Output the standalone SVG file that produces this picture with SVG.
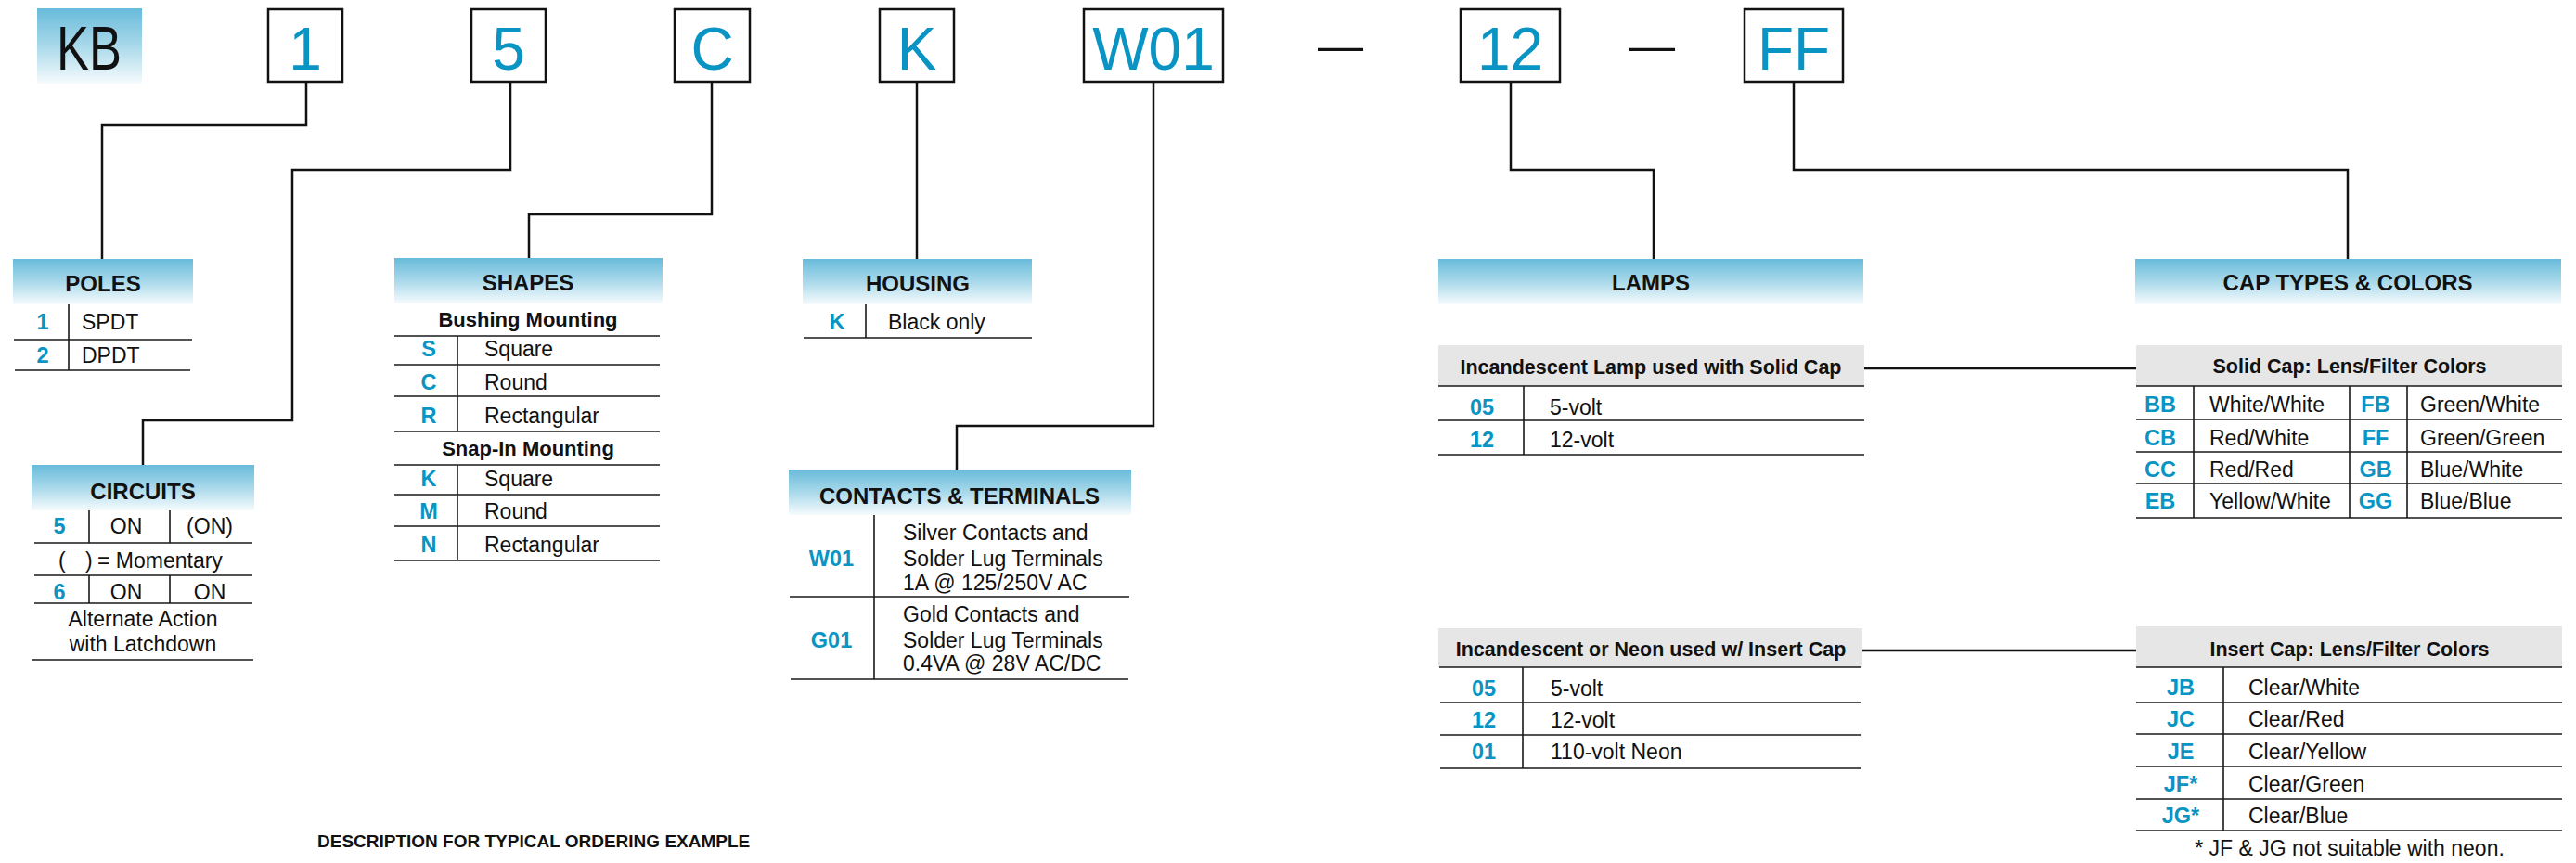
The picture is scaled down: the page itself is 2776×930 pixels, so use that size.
<svg xmlns="http://www.w3.org/2000/svg" width="2776" height="930" viewBox="0 0 2776 930">
<defs>
<linearGradient id="hg" x1="0" y1="0" x2="0" y2="1">
<stop offset="0" stop-color="#68bbdb"/>
<stop offset="0.5" stop-color="#a9d9ea"/>
<stop offset="1" stop-color="#f6fbfd"/>
</linearGradient>
<style>
text{font-family:"Liberation Sans",Arial,sans-serif;fill:#111}
.big{font-size:64px;fill:#0a94c4;text-anchor:middle}
.hdr{font-size:24px;font-weight:bold;text-anchor:middle}
.sub{font-size:21.5px;font-weight:bold;text-anchor:middle}
.b{font-size:23px}
.m{text-anchor:middle}
.code{font-size:23.5px;font-weight:bold;fill:#0a94c4;text-anchor:middle}
.box{fill:#fff;stroke:#111;stroke-width:2.5}
.hg{fill:url(#hg)}
.gray{fill:#e6e6e6}
.tl{stroke:#1a1a1a;stroke-width:1.6;fill:none}
.conn{stroke:#111;stroke-width:2.5;fill:none}
</style>
</defs>
<rect width="2776" height="930" fill="#fff"/>

<g id="connectors">
<path class="conn" d="M330,88 V135 H110 V279"/>
<path class="conn" d="M550,88 V183 H315 V453 H154 V501"/>
<path class="conn" d="M767,88 V231 H570 V278"/>
<path class="conn" d="M988,88 V279"/>
<path class="conn" d="M1243,88 V459 H1031 V506"/>
<path class="conn" d="M1628,88 V183 H1782 V279"/>
<path class="conn" d="M1933,88 V183 H2530 V279"/>
<path class="conn" d="M2009,397 H2302"/>
<path class="conn" d="M2007,701 H2302"/>
</g>

<g id="code-KB">
<rect x="40" y="9" width="113" height="81" class="hg"/>
<text x="96" y="75" style="font-size:66px;text-anchor:middle" textLength="70" lengthAdjust="spacingAndGlyphs">KB</text>
</g>
<g id="code-1"><rect class="box" x="289" y="10" width="80" height="78"/><text class="big" x="329" y="75">1</text></g>
<g id="code-5"><rect class="box" x="508" y="10" width="80" height="78"/><text class="big" x="548" y="75">5</text></g>
<g id="code-C"><rect class="box" x="727" y="10" width="81" height="78"/><text class="big" x="767.5" y="75">C</text></g>
<g id="code-K"><rect class="box" x="948" y="10" width="80" height="78"/><text class="big" x="988" y="75">K</text></g>
<g id="code-W01"><rect class="box" x="1168" y="10" width="150" height="78"/><text class="big" x="1243" y="75">W01</text></g>
<g id="dash-1"><text x="1444.5" y="66" style="font-size:49px;text-anchor:middle">—</text></g>
<g id="code-12"><rect class="box" x="1574" y="10" width="107" height="78"/><text class="big" x="1627.5" y="75">12</text></g>
<g id="dash-2"><text x="1780.5" y="66" style="font-size:49px;text-anchor:middle">—</text></g>
<g id="code-FF"><rect class="box" x="1880" y="10" width="106" height="78"/><text class="big" x="1933" y="75">FF</text></g>

<g id="poles">
<rect class="hg" x="14" y="279" width="194" height="49"/>
<text class="hdr" x="111" y="314">POLES</text>
<path class="tl" d="M74,328 V399 M15,366 H207 M16,399 H205"/>
<text class="code" x="46" y="355">1</text><text class="b" x="88" y="355">SPDT</text>
<text class="code" x="46" y="391">2</text><text class="b" x="88" y="391">DPDT</text>
</g>

<g id="circuits">
<rect class="hg" x="34" y="501" width="240" height="49"/>
<text class="hdr" x="154" y="538">CIRCUITS</text>
<path class="tl" d="M96,550 V585 M183,550 V585 M37,585 H272 M37,620 H272 M96,620 V650 M183,620 V650 M37,650 H272 M34,711 H273"/>
<text class="code" x="64" y="575">5</text><text class="b m" x="136" y="575">ON</text><text class="b m" x="226" y="575">(ON)</text>
<text class="b" x="63" y="612">(</text><text class="b" x="92" y="612">)</text><text class="b" x="105" y="612">= Momentary</text>
<text class="code" x="64" y="646">6</text><text class="b m" x="136" y="646">ON</text><text class="b m" x="226" y="646">ON</text>
<text class="b m" x="154" y="675">Alternate Action</text>
<text class="b m" x="154" y="702">with Latchdown</text>
</g>

<g id="shapes">
<rect class="hg" x="425" y="278" width="289" height="49"/>
<text class="hdr" x="569" y="313">SHAPES</text>
<text class="sub" x="569" y="352" style="font-size:22px">Bushing Mounting</text>
<path class="tl" d="M425,362 H711 M425,393 H711 M425,427 H711 M425,465 H711 M425,501 H711 M425,533 H711 M425,567 H711 M425,604 H711 M493,362 V465 M493,501 V604"/>
<text class="code" x="462" y="384">S</text><text class="b" x="522" y="384">Square</text>
<text class="code" x="462" y="420">C</text><text class="b" x="522" y="420">Round</text>
<text class="code" x="462" y="456">R</text><text class="b" x="522" y="456">Rectangular</text>
<text class="sub" x="569" y="491" style="font-size:22px">Snap-In Mounting</text>
<text class="code" x="462" y="524">K</text><text class="b" x="522" y="524">Square</text>
<text class="code" x="462" y="559">M</text><text class="b" x="522" y="559">Round</text>
<text class="code" x="462" y="595">N</text><text class="b" x="522" y="595">Rectangular</text>
</g>

<g id="housing">
<rect class="hg" x="865" y="279" width="247" height="49"/>
<text class="hdr" x="989" y="314">HOUSING</text>
<path class="tl" d="M933,328 V364 M866,364 H1112"/>
<text class="code" x="902" y="355">K</text><text class="b" x="957" y="355">Black only</text>
</g>

<g id="contacts">
<rect class="hg" x="850" y="506" width="369" height="49"/>
<text class="hdr" x="1034" y="543">CONTACTS &amp; TERMINALS</text>
<path class="tl" d="M942,555 V732 M851,643 H1217 M852,732 H1216"/>
<text class="code" x="896" y="610">W01</text>
<text class="b" x="973" y="582">Silver Contacts and</text>
<text class="b" x="973" y="610">Solder Lug Terminals</text>
<text class="b" x="973" y="636">1A @ 125/250V AC</text>
<text class="code" x="896" y="698">G01</text>
<text class="b" x="973" y="670">Gold Contacts and</text>
<text class="b" x="973" y="698">Solder Lug Terminals</text>
<text class="b" x="973" y="723">0.4VA @ 28V AC/DC</text>
</g>

<g id="lamps">
<rect class="hg" x="1550" y="279" width="458" height="49"/>
<text class="hdr" x="1779" y="313">LAMPS</text>
</g>

<g id="lamps-solid">
<rect class="gray" x="1550" y="372" width="459" height="44"/>
<text class="sub" x="1779" y="403">Incandescent Lamp used with Solid Cap</text>
<path class="tl" d="M1550,416 H2009 M1550,453 H2009 M1550,490 H2009 M1642,416 V490"/>
<text class="code" x="1597" y="447">05</text><text class="b" x="1670" y="447">5-volt</text>
<text class="code" x="1597" y="482">12</text><text class="b" x="1670" y="482">12-volt</text>
</g>

<g id="lamps-insert">
<rect class="gray" x="1550" y="677" width="457" height="42"/>
<text class="sub" x="1779" y="707">Incandescent or Neon used w/ Insert Cap</text>
<path class="tl" d="M1551,719 H2006 M1552,757 H2005 M1552,792 H2005 M1552,828 H2005 M1641,719 V828"/>
<text class="code" x="1599" y="750">05</text><text class="b" x="1671" y="750">5-volt</text>
<text class="code" x="1599" y="784">12</text><text class="b" x="1671" y="784">12-volt</text>
<text class="code" x="1599" y="818">01</text><text class="b" x="1671" y="818">110-volt Neon</text>
</g>

<g id="cap-types">
<rect class="hg" x="2301" y="279" width="459" height="49"/>
<text class="hdr" x="2530" y="313">CAP TYPES &amp; COLORS</text>
</g>

<g id="cap-solid">
<rect class="gray" x="2302" y="372" width="459" height="44"/>
<text class="sub" x="2532" y="402">Solid Cap: Lens/Filter Colors</text>
<path class="tl" d="M2302,416 H2761 M2302,452 H2761 M2302,487 H2761 M2302,521 H2761 M2302,558 H2761 M2364,416 V558 M2532,416 V558 M2594,416 V558"/>
<text class="code" x="2328" y="444">BB</text><text class="b" x="2381" y="444">White/White</text>
<text class="code" x="2560" y="444">FB</text><text class="b" x="2608" y="444">Green/White</text>
<text class="code" x="2328" y="480">CB</text><text class="b" x="2381" y="480">Red/White</text>
<text class="code" x="2560" y="480">FF</text><text class="b" x="2608" y="480">Green/Green</text>
<text class="code" x="2328" y="514">CC</text><text class="b" x="2381" y="514">Red/Red</text>
<text class="code" x="2560" y="514">GB</text><text class="b" x="2608" y="514">Blue/White</text>
<text class="code" x="2328" y="548">EB</text><text class="b" x="2381" y="548">Yellow/White</text>
<text class="code" x="2560" y="548">GG</text><text class="b" x="2608" y="548">Blue/Blue</text>
</g>

<g id="cap-insert">
<rect class="gray" x="2302" y="675" width="459" height="44"/>
<text class="sub" x="2532" y="707">Insert Cap: Lens/Filter Colors</text>
<path class="tl" d="M2302,719 H2761 M2302,757 H2761 M2302,791 H2761 M2302,826 H2761 M2302,861 H2761 M2302,895 H2761 M2396,719 V895"/>
<text class="code" x="2350" y="749">JB</text><text class="b" x="2423" y="749">Clear/White</text>
<text class="code" x="2350" y="783">JC</text><text class="b" x="2423" y="783">Clear/Red</text>
<text class="code" x="2350" y="818">JE</text><text class="b" x="2423" y="818">Clear/Yellow</text>
<text class="code" x="2350" y="853">JF*</text><text class="b" x="2423" y="853">Clear/Green</text>
<text class="code" x="2350" y="887">JG*</text><text class="b" x="2423" y="887">Clear/Blue</text>
<text class="b m" x="2532" y="922">* JF &amp; JG not suitable with neon.</text>
</g>

<g id="caption">
<text x="342" y="913" style="font-size:19px;font-weight:bold">DESCRIPTION FOR TYPICAL ORDERING EXAMPLE</text>
</g>
</svg>
